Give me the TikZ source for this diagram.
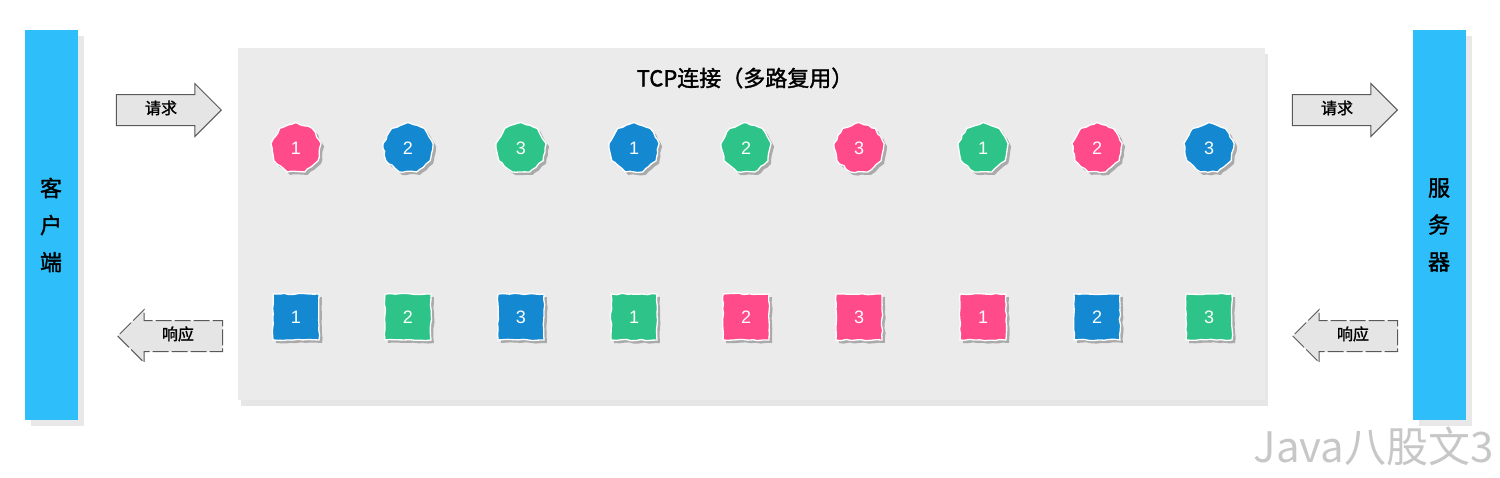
\documentclass[tikz,border=0pt]{standalone}
\usepackage{fontspec}
\setmainfont{Liberation Sans}
\newfontfamily\cjk{Noto Sans CJK SC}
\newfontfamily\cjkbold[FakeBold=1.5]{Noto Sans CJK SC}
\usetikzlibrary{positioning,shapes.geometric,shapes.arrows,shadows,decorations.pathmorphing}
\definecolor{barblue}{RGB}{46,190,250}
\definecolor{tagpink}{RGB}{255,75,138}
\definecolor{tagblue}{RGB}{20,136,208}
\definecolor{taggreen}{RGB}{46,196,137}
\colorlet{panelgray}{black!8}
\colorlet{arrowgray}{black!10}
\colorlet{arrowdraw}{black!65}

\tikzset{
  sidebar/.style={rectangle, fill=barblue, minimum width=53, minimum height=390,
    align=center, font=\cjkbold\fontsize{22}{37}\selectfont,
    drop shadow={shadow xshift=6pt, shadow yshift=-6pt, opacity=.18}},
  panel/.style={rectangle, fill=panelgray, minimum width=1027, minimum height=352,
    drop shadow={shadow xshift=3pt, shadow yshift=-6pt, opacity=.2}},
  blob/.style={regular polygon, regular polygon sides=9, minimum size=51, inner sep=0,
    draw=white, line width=1.3, text=white, font=\fontsize{18}{18}\selectfont,
    decorate, decoration={random steps, segment length=4pt, amplitude=.8pt},
    drop shadow={shadow xshift=3pt, shadow yshift=-3pt, opacity=.6}},
  flag/.style={rectangle, minimum size=46, inner sep=0,
    draw=white, line width=1.3, text=white, font=\fontsize{18}{18}\selectfont,
    decorate, decoration={random steps, segment length=5pt, amplitude=.7pt},
    drop shadow={shadow xshift=3pt, shadow yshift=-3pt, opacity=.6}},
  msgarrow/.style={single arrow, single arrow head extend=11, minimum height=105,
    inner xsep=4, inner ysep=7, text height=12, text depth=4,
    fill=arrowgray, draw=arrowdraw, line width=1,
    font=\cjkbold\fontsize{16}{16}\selectfont},
  backarrow/.style={msgarrow, shape border rotate=180, dash pattern=on 16pt off 3pt}
}

\begin{document}
\begin{tikzpicture}[x=1pt, y=-1pt]
  \useasboundingbox (0,0) rectangle (1500,477);

  % client, server and the connection
  \node[sidebar] (client) at (51,225) {客\\户\\端};
  \node[sidebar] (server) at (1439,225) {服\\务\\器};
  \node[panel] (conn) at (751,224) {};
  \node[font=\cjkbold\fontsize{22}{22}\selectfont] (title) at (745,78) {TCP连接（多路复用）};

  % request / response arrows
  \node[msgarrow, anchor=tip] (reqin) at (222,110) {请求};
  \node[msgarrow, anchor=tip] (reqout) at (1398,110) {请求};
  \node[backarrow, anchor=tip] (respout) at (117,336) {响应};
  \node[backarrow, anchor=tip] (respin) at (1292,336) {响应};

  % frames of the three streams
  \pgfmathsetseed{7}
  \foreach \x/\n/\c [count=\i] in {296/1/tagpink,408/2/tagblue,521/3/taggreen,
      634/1/tagblue,746/2/taggreen,859/3/tagpink,983/1/taggreen,1097/2/tagpink,1209/3/tagblue}
    \node[blob, fill=\c] (up\i) at (\x,148) {\n};
  \foreach \x/\n/\c [count=\i] in {296/1/tagblue,408/2/taggreen,521/3/tagblue,
      634/1/taggreen,746/2/tagpink,859/3/tagpink,983/1/tagpink,1097/2/tagblue,1209/3/taggreen}
    \node[flag, fill=\c] (down\i) at (\x,317) {\n};

  \node[font=\cjk\fontsize{42}{42}\selectfont, text=black!22, anchor=east, inner sep=0] (mark) at (1494,446) {Java八股文3};
\end{tikzpicture}
\end{document}
